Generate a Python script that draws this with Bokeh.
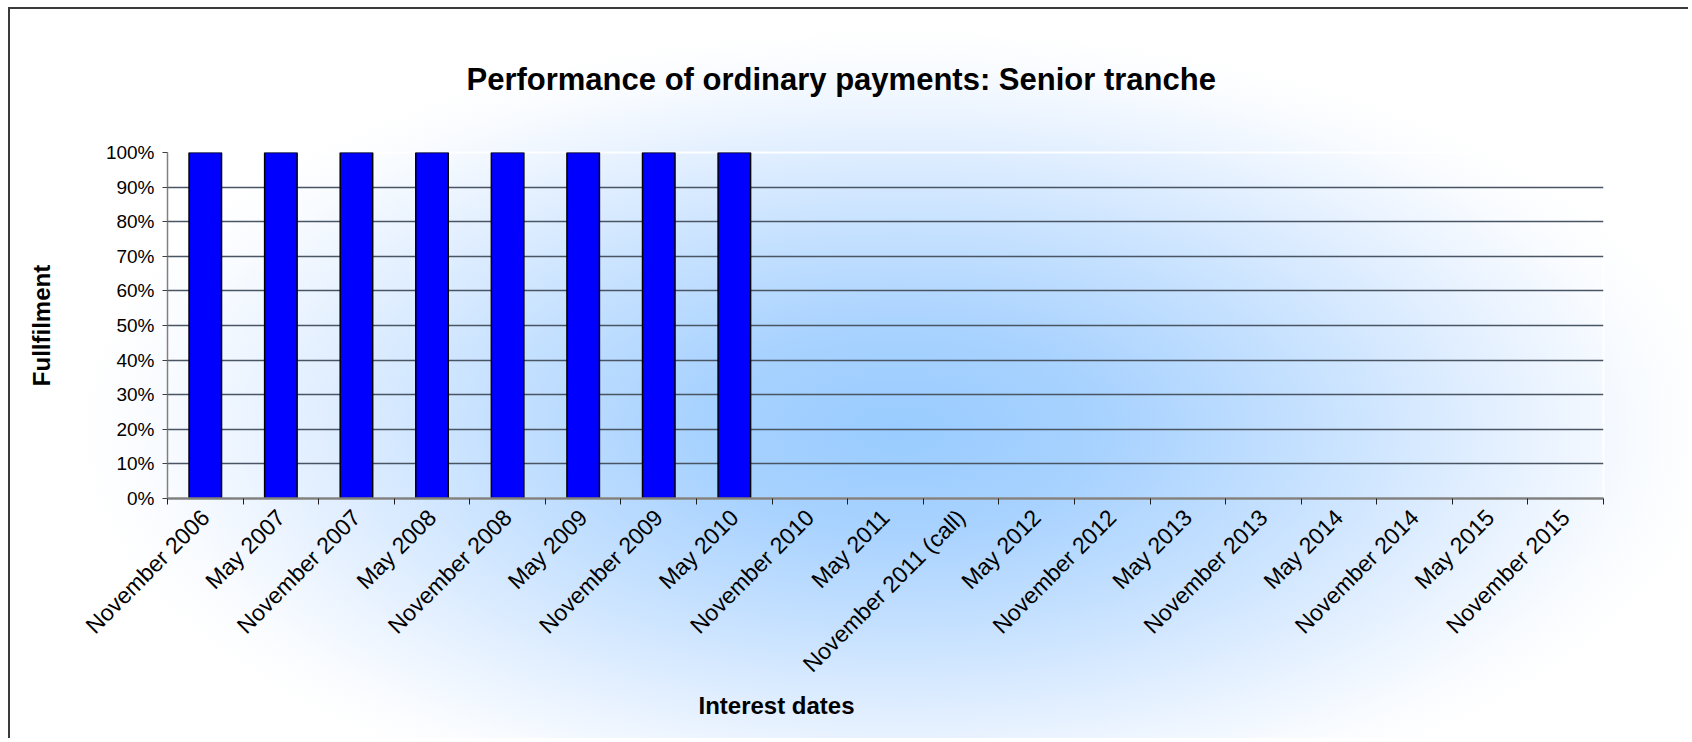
import math
from bokeh.plotting import figure
from bokeh.models import (Range1d, LinearAxis, FixedTicker, NumeralTickFormatter, Title)
from bokeh.embed import file_html
from bokeh.resources import INLINE

# ---- data ----
interest_dates = [
    "November 2006", "May 2007", "November 2007", "May 2008", "November 2008",
    "May 2009", "November 2009", "May 2010", "November 2010", "May 2011",
    "November 2011 (call)", "May 2012", "November 2012", "May 2013",
    "November 2013", "May 2014", "November 2014", "May 2015", "November 2015",
]
fulfilment = [1.0, 1.0, 1.0, 1.0, 1.0, 1.0, 1.0, 1.0,
              None, None, None, None, None, None, None, None, None, None, None]
y_ticks = [0.0, 0.1, 0.2, 0.3, 0.4, 0.5, 0.6, 0.7, 0.8, 0.9, 1.0]

title_text = "Performance of ordinary payments: Senior tranche"
x_title = "Interest dates"
y_title = "Fullfilment"

FONT = "Liberation Sans"

n = len(interest_dates)
centers = [i + 0.5 for i in range(n)]          # category slot centres
edges = list(range(n + 1))                      # category slot boundaries
paid_x = [c for c, v in zip(centers, fulfilment) if v is not None]
paid_vals = [v for v in fulfilment if v is not None]

p = figure(
    width=1688, height=738,
    x_range=Range1d(0, n),
    y_range=Range1d(y_ticks[0], y_ticks[-1]),
    x_axis_type=None, y_axis_location="left",
    output_backend="svg", toolbar_location=None,
    min_border_left=167, min_border_right=85,
    min_border_top=152, min_border_bottom=240,
)

p.background_fill_color = None
p.border_fill_color = None
p.outline_line_color = "white"
p.outline_line_width = 2
p.outline_line_alpha = 0.9

p.styles = {
    "background": (
        "linear-gradient(#3a3a3a, #3a3a3a) 8px 7px / 100% 2px no-repeat, "
        "linear-gradient(#3a3a3a, #3a3a3a) 8px 7px / 2px 100% no-repeat, "
        "radial-gradient(ellipse 820px 400px at 900px 430px, "
        "#99ccff 0%, #a8d2ff 25%, #c8e2ff 52%, #e6f1ff 75%, #f8fbff 90%, #ffffff 100%)"
    ),
}

# chart title
title = Title(text=title_text, align="left", offset=299, standoff=111,
              text_font=FONT, text_font_size="31px", text_font_style="bold",
              text_color="black")
p.add_layout(title, "above")

# bars
p.vbar(x=paid_x, top=paid_vals, width=0.43,
       fill_color="#0000ff", line_color="black", line_width=1.5)

# y axis
yaxis = p.yaxis[0]
yaxis.ticker = FixedTicker(ticks=y_ticks)
yaxis.formatter = NumeralTickFormatter(format="0%")
yaxis.major_label_text_font = FONT
yaxis.major_label_text_font_size = "19px"
yaxis.major_label_text_color = "black"
yaxis.major_tick_out = 5
yaxis.major_tick_in = 0
yaxis.major_tick_line_color = "#404040"
yaxis.minor_tick_line_color = None
yaxis.axis_line_color = "#808080"
yaxis.axis_line_width = 1.5
yaxis.major_label_standoff = 8
yaxis.axis_label = y_title
yaxis.axis_label_text_font = FONT
yaxis.axis_label_text_font_size = "24px"
yaxis.axis_label_text_font_style = "bold"
yaxis.axis_label_text_color = "black"
yaxis.axis_label_standoff = 48

p.ygrid.ticker = FixedTicker(ticks=y_ticks[1:-1])
p.ygrid.grid_line_color = "#4a5563"
p.ygrid.grid_line_width = 1.5
p.xgrid.visible = False

# x axis: labels at slot centres, tick marks at slot boundaries (minor ticks)
xaxis = LinearAxis(ticker=FixedTicker(ticks=centers, minor_ticks=edges))
xaxis.major_label_overrides = {c: d for c, d in zip(centers, interest_dates)}
xaxis.major_tick_line_color = None
xaxis.major_tick_out = 0
xaxis.major_tick_in = 0
xaxis.minor_tick_line_color = "#202020"
xaxis.minor_tick_out = 6
xaxis.minor_tick_in = 0
xaxis.axis_line_color = "#808080"
xaxis.axis_line_width = 2.5
xaxis.major_label_orientation = math.pi / 4
xaxis.major_label_text_font = FONT
xaxis.major_label_text_font_size = "23px"
xaxis.major_label_text_color = "black"
xaxis.major_label_standoff = 9
p.add_layout(xaxis, "below")

# x axis title
x_lab = Title(text=x_title, align="left", offset=531, standoff=0,
              text_font=FONT, text_font_size="24px", text_font_style="bold",
              text_color="black")
p.add_layout(x_lab, "below")

open("out.html", "w").write(file_html(p, INLINE))
